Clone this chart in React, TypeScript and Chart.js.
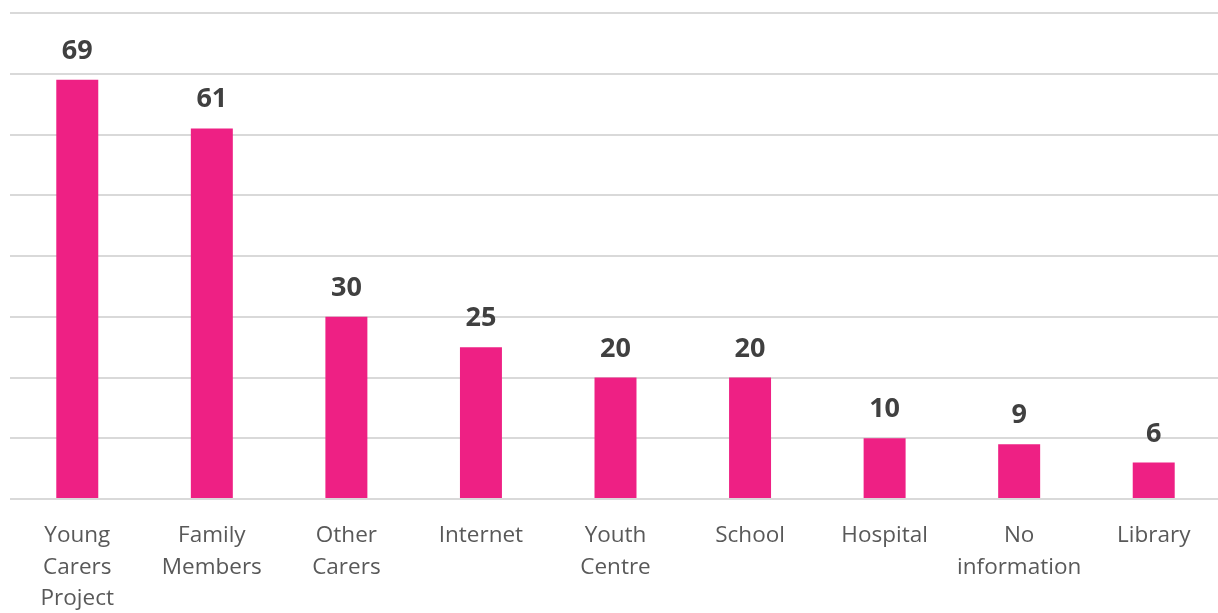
import React, { useEffect, useRef } from "react";
import { Chart, registerables } from "chart.js";

Chart.register(...registerables);

const categories: string[][] = [
  ["Young", "Carers", "Project"],
  ["Family", "Members"],
  ["Other", "Carers"],
  ["Internet"],
  ["Youth", "Centre"],
  ["School"],
  ["Hospital"],
  ["No", "information"],
  ["Library"],
];
const values: number[] = [69, 61, 30, 25, 20, 20, 10, 9, 6];

const FONT = "'Open Sans', 'Noto Sans', sans-serif";

const valueLabels = {
  id: "valueLabels",
  afterDatasetsDraw(chart: any) {
    const ctx = chart.ctx;
    const meta = chart.getDatasetMeta(0);
    ctx.save();
    ctx.font = `bold 27px ${FONT}`;
    ctx.fillStyle = "#404040";
    ctx.textAlign = "center";
    ctx.textBaseline = "alphabetic";
    meta.data.forEach((bar: any, i: number) => {
      ctx.fillText(String(values[i]), bar.x, bar.y - 21);
    });
    ctx.restore();
  },
};

export default function App() {
  const ref = useRef<HTMLCanvasElement | null>(null);
  useEffect(() => {
    if (!ref.current) return;
    const chart = new Chart(ref.current, {
      type: "bar",
      data: {
        labels: categories as any,
        datasets: [
          {
            data: values,
            backgroundColor: "#EE2084",
            borderWidth: 0,
            barPercentage: 0.312,
            categoryPercentage: 1,
          },
        ],
      },
      options: {
        animation: false,
        responsive: false,
        maintainAspectRatio: false,
        layout: { padding: { top: 13, left: 10, right: 0, bottom: 0 } },
        plugins: {
          legend: { display: false },
          tooltip: { enabled: false },
        },
        scales: {
          x: {
            grid: { display: false },
            border: { display: false },
            afterFit: (s: any) => {
              s.height = 114;
            },
            ticks: {
              color: "#595959",
              font: { family: FONT, size: 22.5, lineHeight: 1.4 },
              padding: 13,
              maxRotation: 0,
              autoSkip: false,
            },
          },
          y: {
            min: 0,
            max: 80,
            ticks: { display: false, stepSize: 10 },
            border: { display: false },
            grid: { color: "#D9D9D9", lineWidth: 2, drawTicks: false },
          },
        },
      },
      plugins: [valueLabels],
    });
    return () => chart.destroy();
  }, []);
  return (
    <div style={{ position: "fixed", left: 0, top: 0, width: 1218, height: 613, overflow: "hidden", background: "#fff" }}>
      <canvas ref={ref} width={1221} height={613} style={{ display: "block" }} />
    </div>
  );
}
